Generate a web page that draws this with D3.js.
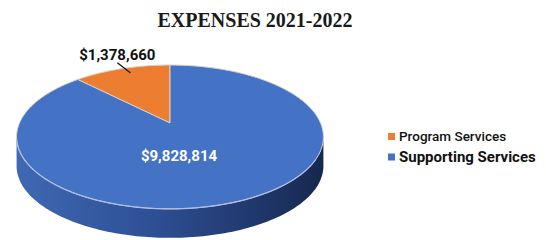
<!DOCTYPE html>
<html>
<head>
<meta charset="utf-8">
<script src="https://cdn.jsdelivr.net/npm/d3@7"></script>
<style>
  body { margin: 0; background: #fff; }
</style>
</head>
<body>
<svg width="546" height="240"></svg>
<script>
var categories = ["Program Services", "Supporting Services"];
var values = [1378660, 9828814];
var labels = ["$1,378,660", "$9,828,814"];
var colors = ["#ED7D31", "#4472C4"];

var svg = d3.select("svg");

// pie geometry with a simple perspective (back of the disc is farther away)
var cx = 170, cy = 123, rx = 150.5, ry = 69.2, persp = 0.194, depth = 29;

function proj(a, f) {
  var u = f * Math.sin(a), v = f * Math.cos(a);
  var k = 1 / (1 + persp * v);
  return [cx + rx * u * k, cy - ry * v * k];
}

var total = d3.sum(values);
var theta = 2 * Math.PI * values[0] / total;

// program slice sits counter-clockwise from 12 o'clock
var pie = d3.pie().sort(null)
  .startAngle(-theta)
  .endAngle(2 * Math.PI - theta);
var arcs = pie(values);

var defs = svg.append("defs");
var side = defs.append("linearGradient").attr("id", "side")
  .attr("x1", 0).attr("x2", 1).attr("y1", 0).attr("y2", 0);
side.append("stop").attr("offset", 0).attr("stop-color", "#4068b4");
side.append("stop").attr("offset", 0.45).attr("stop-color", "#2d4f94");
side.append("stop").attr("offset", 1).attr("stop-color", "#17284f");

var sideO = defs.append("linearGradient").attr("id", "sideO")
  .attr("x1", 0).attr("x2", 1).attr("y1", 0).attr("y2", 0);
sideO.append("stop").attr("offset", 0).attr("stop-color", "#c9611f");
sideO.append("stop").attr("offset", 1).attr("stop-color", "#8a3f10");

var line = d3.line();

function sample(a0, a1, f) {
  var n = Math.max(2, Math.ceil(Math.abs(a1 - a0) / 0.02));
  return d3.range(n + 1).map(function(i) { return proj(a0 + (a1 - a0) * i / n, f); });
}

// outer wall: only the part in front of the silhouette points
var sil = Math.acos(-persp);
var walls = [];
arcs.forEach(function(d, i) {
  [[sil, 2 * Math.PI - sil], [sil - 2 * Math.PI, -sil]].forEach(function(w) {
    var a0 = Math.max(d.startAngle, w[0]), a1 = Math.min(d.endAngle, w[1]);
    if (a1 > a0) walls.push({ i: i, a0: a0, a1: a1 });
  });
});

svg.append("g").selectAll("path")
  .data(walls)
  .enter().append("path")
    .attr("d", function(w) {
      var top = sample(w.a0, w.a1, 1);
      var bot = sample(w.a1, w.a0, 1).map(function(p) { return [p[0], p[1] + depth]; });
      return line(top.concat(bot)) + "Z";
    })
    .attr("fill", function(w) { return w.i === 1 ? "url(#side)" : "url(#sideO)"; });

// top face
svg.append("g").selectAll("path")
  .data(arcs)
  .enter().append("path")
    .attr("d", function(d) {
      return line([[cx, cy]].concat(sample(d.startAngle, d.endAngle, 1))) + "Z";
    })
    .attr("fill", function(d, i) { return colors[i]; })
    .attr("stroke", "#d8d2cc")
    .attr("stroke-width", 1)
    .attr("stroke-linejoin", "round");

// highlight along the front rim
svg.append("path")
  .attr("d", line(sample(sil + 0.3, 2 * Math.PI - sil - 0.05, 1)))
  .attr("fill", "none")
  .attr("stroke", "#a9bde6")
  .attr("stroke-width", 1.3)
  .attr("opacity", 0.85);

// big slice label
svg.append("text")
  .attr("x", cx + 9)
  .attr("y", cy + 38)
  .attr("text-anchor", "middle")
  .attr("fill", "#fff")
  .attr("font-family", "Roboto, 'Liberation Sans', sans-serif")
  .attr("font-weight", 700)
  .attr("font-size", 15)
  .text(labels[1]);

// small slice label with leader
var sm = arcs[0];
var midS = (sm.startAngle + sm.endAngle) / 2;
var pIn = proj(midS * 0.9, 0.9);
var pOut = [pIn[0] - 13, pIn[1] - 10];
svg.append("line")
  .attr("x1", pIn[0]).attr("y1", pIn[1])
  .attr("x2", pOut[0]).attr("y2", pOut[1])
  .attr("stroke", "#111")
  .attr("stroke-width", 1.2);
svg.append("text")
  .attr("x", pOut[0])
  .attr("y", pOut[1] - 3)
  .attr("text-anchor", "middle")
  .attr("fill", "#111")
  .attr("font-family", "Roboto, 'Liberation Sans', sans-serif")
  .attr("font-weight", 700)
  .attr("font-size", 15)
  .text(labels[0]);

// title
svg.append("text")
  .attr("x", 255)
  .attr("y", 27)
  .attr("text-anchor", "middle")
  .attr("fill", "#1a1a1a")
  .attr("font-family", "'Liberation Serif', 'DejaVu Serif', serif")
  .attr("font-weight", 700)
  .attr("font-size", 20)
  .text("EXPENSES 2021-2022");

// legend
var legend = svg.append("g").attr("transform", "translate(388,133)");
var item = legend.selectAll("g")
  .data(categories)
  .enter().append("g")
    .attr("transform", function(d, i) { return "translate(0," + i * 20.5 + ")"; });
item.append("rect")
  .attr("width", 7).attr("height", 7)
  .attr("fill", function(d, i) { return colors[i]; });
item.append("text")
  .attr("x", 11)
  .attr("y", 8)
  .attr("fill", "#111")
  .attr("font-family", "Roboto, 'Liberation Sans', sans-serif")
  .attr("font-weight", function(d, i) { return i ? 700 : 500; })
  .attr("font-size", function(d, i) { return i ? 15 : 13.5; })
  .text(function(d) { return d; });
</script>
</body>
</html>
